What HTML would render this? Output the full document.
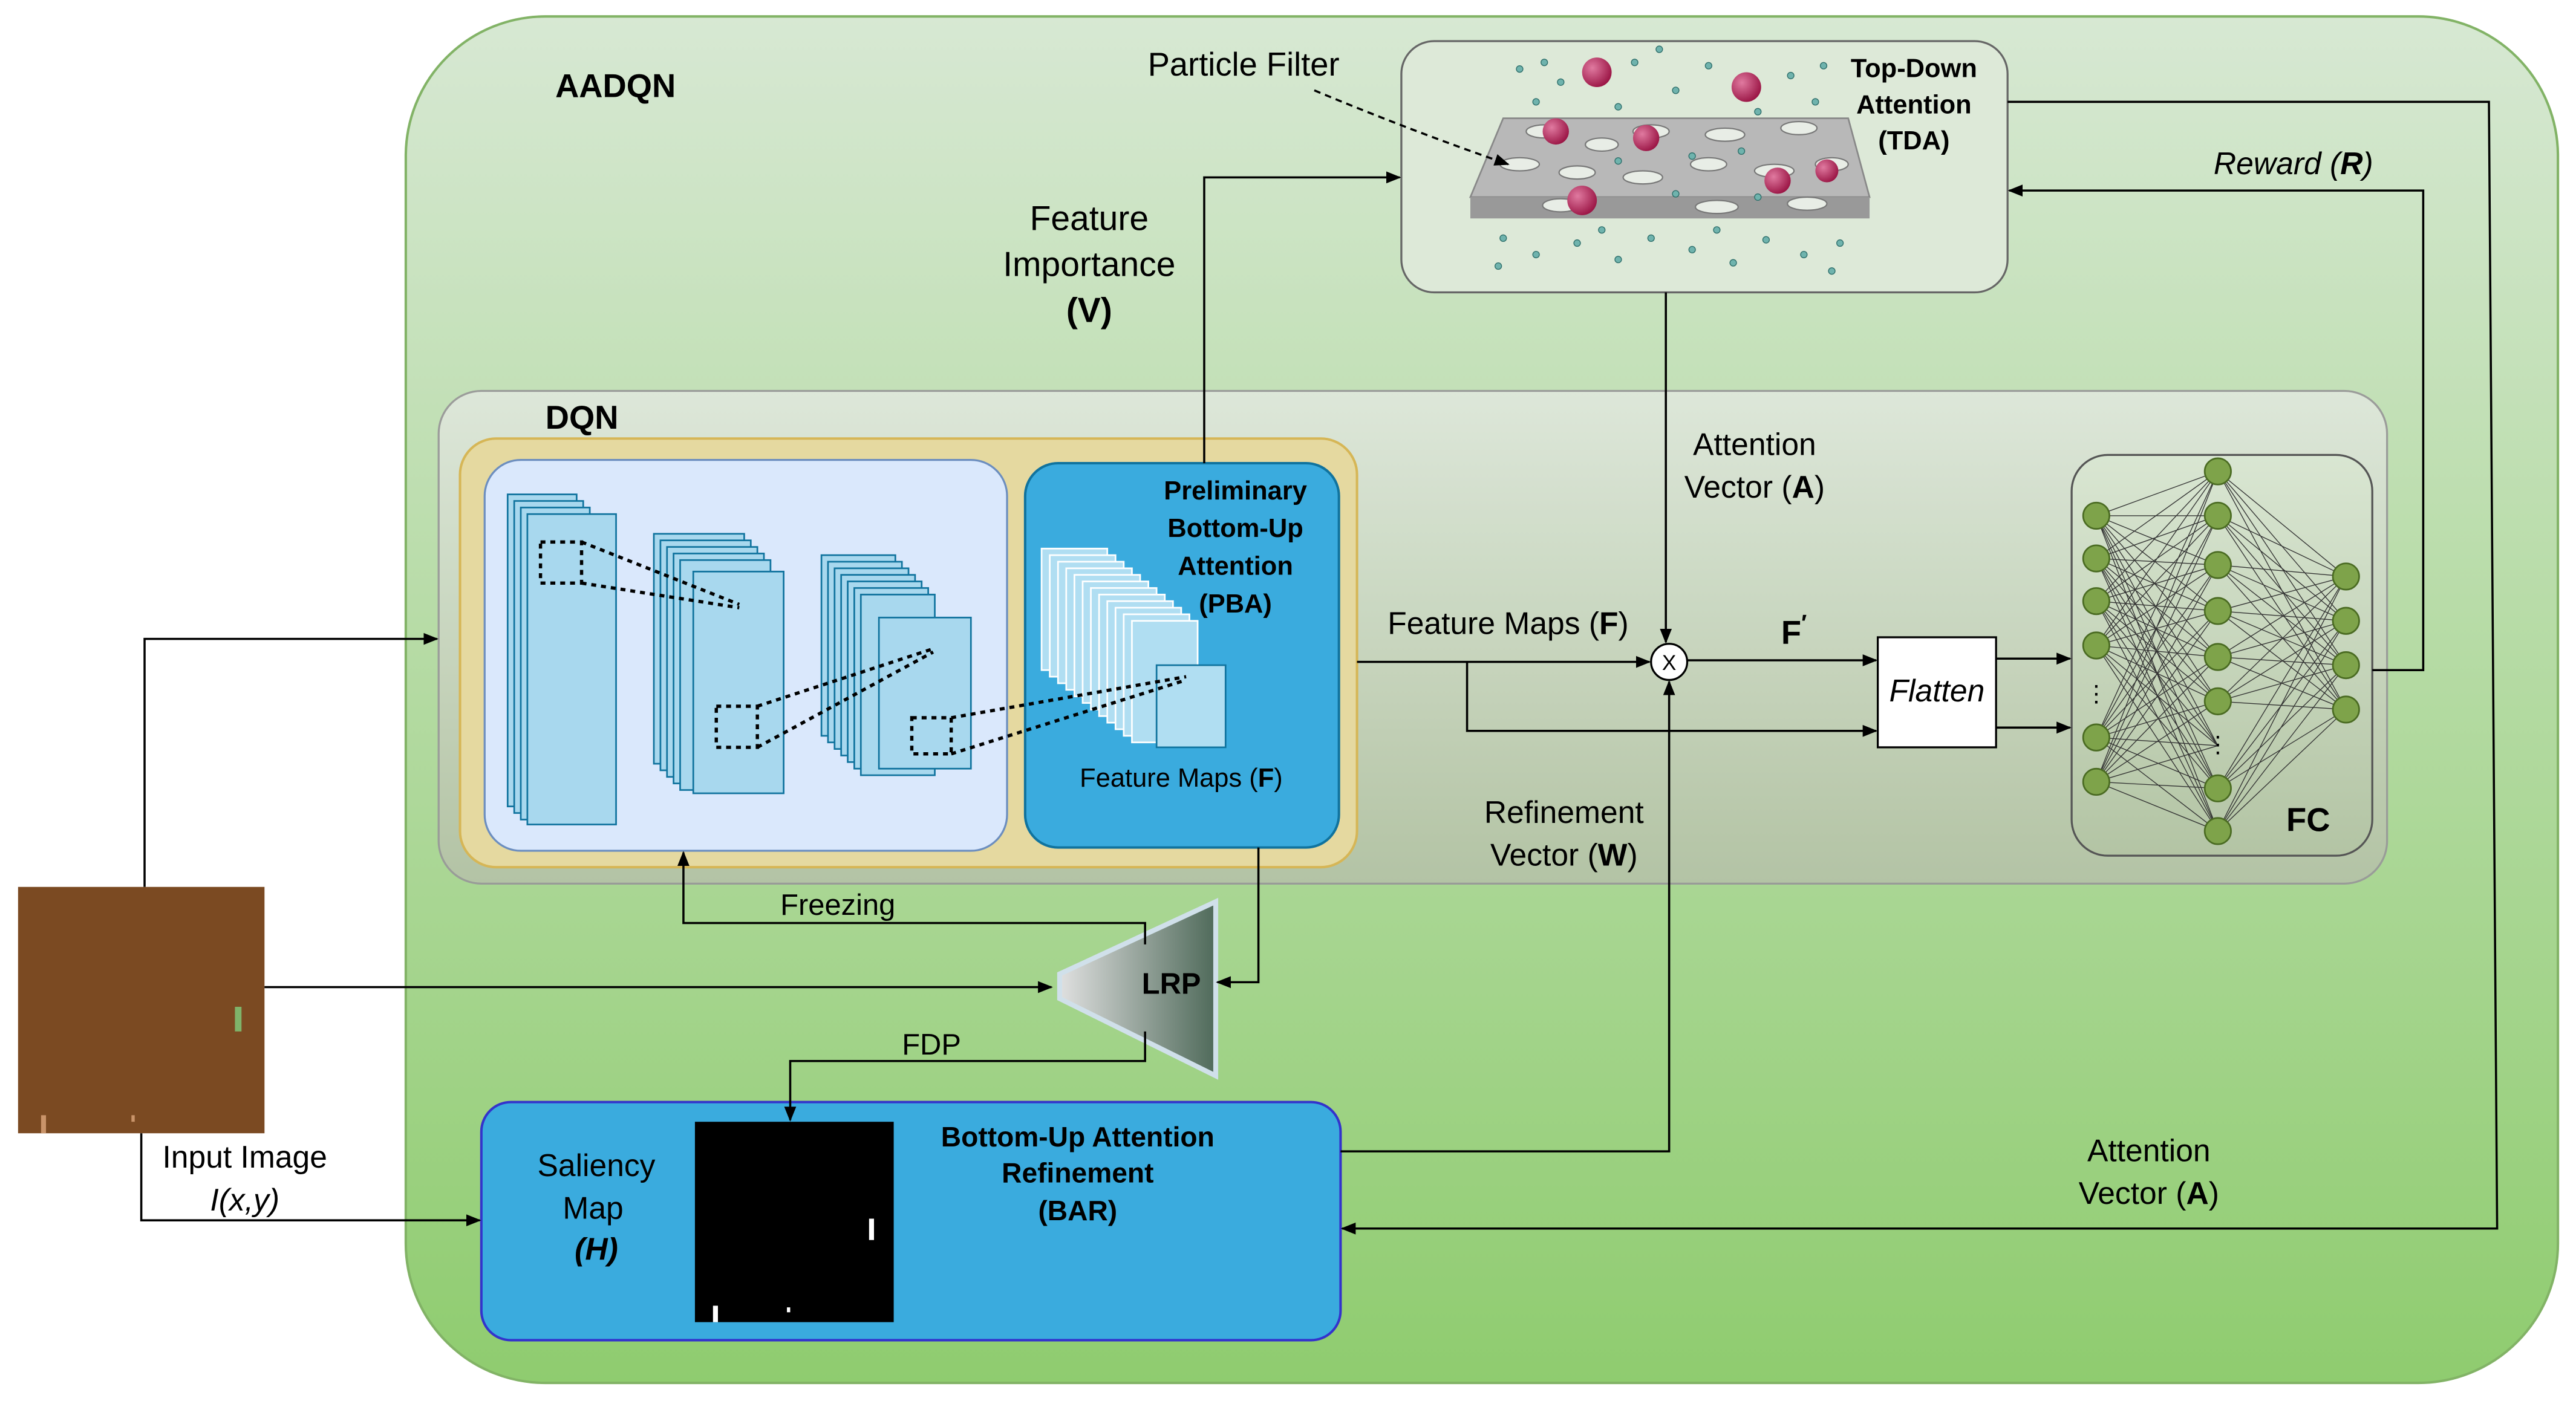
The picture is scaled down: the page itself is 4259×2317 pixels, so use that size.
<!DOCTYPE html>
<html><head><meta charset="utf-8"><style>
html,body{margin:0;padding:0;background:#fff;}
svg{display:block;}
text{font-family:"Liberation Sans",Arial,sans-serif;}
</style></head><body>
<svg width="4259" height="2317" viewBox="0 0 1568 853" xmlns="http://www.w3.org/2000/svg">
<defs>
<linearGradient id="gBig" x1="0" y1="0" x2="0" y2="1"><stop offset="0" stop-color="#d7e8d3"/><stop offset="1" stop-color="#8fcc6f"/></linearGradient>
<linearGradient id="gDqn" x1="0" y1="0" x2="0" y2="1"><stop offset="0" stop-color="#dfe8db"/><stop offset="1" stop-color="#b4c3a6"/></linearGradient>
<linearGradient id="gLrp" x1="0" y1="0" x2="1" y2="0"><stop offset="0" stop-color="#e0e0e0"/><stop offset="1" stop-color="#4f6a5a"/></linearGradient>
<linearGradient id="gFc" x1="0" y1="0" x2="0" y2="1"><stop offset="0" stop-color="#d9e6d2"/><stop offset="1" stop-color="#b3c4a4"/></linearGradient>
<radialGradient id="gBall" cx="0.35" cy="0.35" r="0.7"><stop offset="0" stop-color="#e07aa0"/><stop offset="1" stop-color="#9a1444"/></radialGradient>
<marker id="ar" viewBox="0 0 10 10" refX="9" refY="5" markerWidth="7" markerHeight="7" orient="auto-start-reverse"><path d="M0,1 L10,5 L0,9 z" fill="#000"/></marker>
</defs>
<rect x="0" y="0" width="1568" height="853" fill="#fff"/>
<rect x="247" y="10" width="1310" height="832" rx="85" fill="url(#gBig)" stroke="#82b366" stroke-width="1.5"/>
<text x="338" y="59" font-size="20" font-weight="bold">AADQN</text>

<!-- DQN -->
<rect x="267" y="238" width="1186" height="300" rx="26" fill="url(#gDqn)" stroke="#999" stroke-width="1.2" opacity="0.95"/>
<text x="332" y="261" font-size="20" font-weight="bold">DQN</text>
<rect x="280" y="267" width="546" height="261" rx="22" fill="#e5d9a0" stroke="#d6b656" stroke-width="1.5"/>
<rect x="295" y="280" width="318" height="238" rx="22" fill="#dae8fc" stroke="#6c8ebf" stroke-width="1.2"/>
<rect x="624" y="282" width="191" height="234" rx="20" fill="#3aabde" stroke="#10739e" stroke-width="1.5"/>
<text font-size="16" font-weight="bold" text-anchor="middle"><tspan x="752" y="304">Preliminary</tspan><tspan x="752" y="327">Bottom-Up</tspan><tspan x="752" y="350">Attention</tspan><tspan x="752" y="373">(PBA)</tspan></text>
<text x="719" y="479" font-size="16" text-anchor="middle">Feature Maps (<tspan font-weight="bold">F</tspan>)</text>

<!-- stacks -->
<g fill="#a8d8ee" stroke="#10739e" stroke-width="1">
<rect x="309" y="301" width="42" height="190"/><rect x="313" y="305" width="42" height="190"/><rect x="317" y="309" width="42" height="190"/><rect x="321" y="313" width="54" height="189"/>
<rect x="398" y="325" width="55" height="140"/><rect x="402" y="329" width="55" height="140"/><rect x="406" y="333" width="55" height="140"/><rect x="410" y="337" width="55" height="140"/><rect x="414" y="341" width="55" height="140"/><rect x="422" y="348" width="55" height="135"/>
<rect x="500" y="338" width="45" height="110"/><rect x="504" y="342" width="45" height="110"/><rect x="508" y="346" width="45" height="110"/><rect x="512" y="350" width="45" height="110"/><rect x="516" y="354" width="45" height="110"/><rect x="520" y="358" width="45" height="110"/><rect x="524" y="362" width="45" height="110"/><rect x="535" y="376" width="56" height="92"/>
</g>
<g fill="#b0def2" stroke="#fff" stroke-width="1">
<rect x="634" y="334" width="40" height="74"/><rect x="639" y="338" width="40" height="74"/><rect x="644" y="342" width="40" height="74"/><rect x="649" y="346" width="40" height="74"/><rect x="654" y="350" width="40" height="74"/><rect x="659" y="354" width="40" height="74"/><rect x="664" y="358" width="40" height="74"/><rect x="669" y="362" width="40" height="74"/><rect x="674" y="366" width="40" height="74"/><rect x="679" y="370" width="40" height="74"/><rect x="684" y="374" width="40" height="74"/><rect x="689" y="378" width="40" height="74"/>
<rect x="704" y="405" width="42" height="50" stroke="#10739e"/>
</g>
<g fill="none" stroke="#000" stroke-width="2" stroke-dasharray="3,3">
<rect x="329" y="330" width="25" height="25"/><line x1="354" y1="330" x2="450" y2="368"/><line x1="354" y1="355" x2="450" y2="370"/>
<rect x="436" y="430" width="25" height="25"/><line x1="461" y1="430" x2="568" y2="395"/><line x1="461" y1="455" x2="568" y2="397"/>
<rect x="555" y="437" width="24" height="22"/><line x1="579" y1="437" x2="722" y2="412"/><line x1="579" y1="459" x2="722" y2="414"/>
</g>

<!-- TDA -->
<rect x="853" y="25" width="369" height="153" rx="20" fill="#dde9d8" stroke="#666" stroke-width="1.2"/>
<text font-size="16" font-weight="bold" text-anchor="middle"><tspan x="1165" y="47">Top-Down</tspan><tspan x="1165" y="69">Attention</tspan><tspan x="1165" y="91">(TDA)</tspan></text>
<g>
<polygon points="915,72 1125,72 1138,120 895,120" fill="#b8b8b8" stroke="#888"/>
<polygon points="895,120 1138,120 1138,133 895,133" fill="#999"/>
<g fill="#e8ede6" stroke="#777" stroke-width="0.8">
<ellipse cx="940" cy="80" rx="11" ry="4"/><ellipse cx="975" cy="88" rx="10" ry="4"/><ellipse cx="1005" cy="80" rx="11" ry="4"/><ellipse cx="1050" cy="82" rx="12" ry="4"/><ellipse cx="1095" cy="78" rx="11" ry="4"/>
<ellipse cx="925" cy="100" rx="12" ry="4"/><ellipse cx="960" cy="105" rx="11" ry="4"/><ellipse cx="1000" cy="108" rx="12" ry="4"/><ellipse cx="1040" cy="100" rx="11" ry="4"/><ellipse cx="1080" cy="104" rx="12" ry="4"/><ellipse cx="1115" cy="100" rx="10" ry="4"/>
<ellipse cx="950" cy="125" rx="11" ry="4"/><ellipse cx="1045" cy="126" rx="13" ry="4"/><ellipse cx="1100" cy="124" rx="12" ry="4"/>
</g>
<g fill="url(#gBall)">
<circle cx="972" cy="44" r="9"/><circle cx="1063" cy="53" r="9"/><circle cx="947" cy="80" r="8"/><circle cx="1002" cy="84" r="8"/><circle cx="1082" cy="110" r="8"/><circle cx="1112" cy="104" r="7"/><circle cx="963" cy="122" r="9"/>
</g>
<g fill="#6fb3ad" stroke="#2d6e6a" stroke-width="0.5">
<circle cx="925" cy="42" r="2"/><circle cx="950" cy="50" r="2"/><circle cx="995" cy="38" r="2"/><circle cx="1020" cy="55" r="2"/><circle cx="1040" cy="40" r="2"/><circle cx="1090" cy="46" r="2"/><circle cx="1105" cy="62" r="2"/><circle cx="935" cy="62" r="2"/><circle cx="985" cy="65" r="2"/><circle cx="1070" cy="68" r="2"/><circle cx="940" cy="38" r="2"/><circle cx="1010" cy="30" r="2"/><circle cx="1110" cy="40" r="2"/>
<circle cx="915" cy="145" r="2"/><circle cx="935" cy="155" r="2"/><circle cx="960" cy="148" r="2"/><circle cx="985" cy="158" r="2"/><circle cx="1005" cy="145" r="2"/><circle cx="1030" cy="152" r="2"/><circle cx="1055" cy="160" r="2"/><circle cx="1075" cy="146" r="2"/><circle cx="1098" cy="155" r="2"/><circle cx="1120" cy="148" r="2"/><circle cx="912" cy="162" r="2"/><circle cx="1045" cy="140" r="2"/><circle cx="1115" cy="165" r="2"/><circle cx="975" cy="140" r="2"/>
<circle cx="1030" cy="95" r="2"/><circle cx="1060" cy="92" r="2"/><circle cx="985" cy="98" r="2"/><circle cx="1020" cy="118" r="2"/><circle cx="1070" cy="120" r="2"/>
</g>
</g>
<text x="757" y="46" font-size="20" text-anchor="middle">Particle Filter</text>
<path d="M800,55 Q860,80 918,100" fill="none" stroke="#000" stroke-width="1.3" stroke-dasharray="4,3" marker-end="url(#ar)"/>

<!-- FC -->
<rect x="1261" y="277" width="183" height="244" rx="22" fill="url(#gFc)" stroke="#555" stroke-width="1.2"/>
<g stroke="#333" stroke-width="0.5">
<g id="l1">
<path d="M1276,314 L1350,287 M1276,314 L1350,314 M1276,314 L1350,344 M1276,314 L1350,372 M1276,314 L1350,400 M1276,314 L1350,427 M1276,314 L1350,454 M1276,314 L1350,480 M1276,314 L1350,506
M1276,340 L1350,287 M1276,340 L1350,314 M1276,340 L1350,344 M1276,340 L1350,372 M1276,340 L1350,400 M1276,340 L1350,427 M1276,340 L1350,454 M1276,340 L1350,480 M1276,340 L1350,506
M1276,366 L1350,287 M1276,366 L1350,314 M1276,366 L1350,344 M1276,366 L1350,372 M1276,366 L1350,400 M1276,366 L1350,427 M1276,366 L1350,454 M1276,366 L1350,480 M1276,366 L1350,506
M1276,393 L1350,287 M1276,393 L1350,314 M1276,393 L1350,344 M1276,393 L1350,372 M1276,393 L1350,400 M1276,393 L1350,427 M1276,393 L1350,454 M1276,393 L1350,480 M1276,393 L1350,506
M1276,449 L1350,287 M1276,449 L1350,314 M1276,449 L1350,344 M1276,449 L1350,372 M1276,449 L1350,400 M1276,449 L1350,427 M1276,449 L1350,454 M1276,449 L1350,480 M1276,449 L1350,506
M1276,476 L1350,287 M1276,476 L1350,314 M1276,476 L1350,344 M1276,476 L1350,372 M1276,476 L1350,400 M1276,476 L1350,427 M1276,476 L1350,454 M1276,476 L1350,480 M1276,476 L1350,506"/>
</g>
<path d="M1350,287 L1428,351 M1350,287 L1428,378 M1350,287 L1428,405 M1350,287 L1428,432
M1350,314 L1428,351 M1350,314 L1428,378 M1350,314 L1428,405 M1350,314 L1428,432
M1350,344 L1428,351 M1350,344 L1428,378 M1350,344 L1428,405 M1350,344 L1428,432
M1350,372 L1428,351 M1350,372 L1428,378 M1350,372 L1428,405 M1350,372 L1428,432
M1350,400 L1428,351 M1350,400 L1428,378 M1350,400 L1428,405 M1350,400 L1428,432
M1350,427 L1428,351 M1350,427 L1428,378 M1350,427 L1428,405 M1350,427 L1428,432
M1350,480 L1428,351 M1350,480 L1428,378 M1350,480 L1428,405 M1350,480 L1428,432
M1350,506 L1428,351 M1350,506 L1428,378 M1350,506 L1428,405 M1350,506 L1428,432"/>
</g>
<g fill="#7ea34a" stroke="#4a6b22" stroke-width="1">
<circle cx="1276" cy="314" r="8"/><circle cx="1276" cy="340" r="8"/><circle cx="1276" cy="366" r="8"/><circle cx="1276" cy="393" r="8"/><circle cx="1276" cy="449" r="8"/><circle cx="1276" cy="476" r="8"/>
<circle cx="1350" cy="287" r="8"/><circle cx="1350" cy="314" r="8"/><circle cx="1350" cy="344" r="8"/><circle cx="1350" cy="372" r="8"/><circle cx="1350" cy="400" r="8"/><circle cx="1350" cy="427" r="8"/><circle cx="1350" cy="480" r="8"/><circle cx="1350" cy="506" r="8"/>
<circle cx="1428" cy="351" r="8"/><circle cx="1428" cy="378" r="8"/><circle cx="1428" cy="405" r="8"/><circle cx="1428" cy="432" r="8"/>
</g>
<text x="1276" y="427" font-size="14" text-anchor="middle">⋮</text>
<text x="1350" y="458" font-size="14" text-anchor="middle">⋮</text>
<text x="1405" y="506" font-size="20" font-weight="bold" text-anchor="middle">FC</text>

<!-- Flatten -->
<rect x="1143" y="388" width="72" height="67" fill="#fff" stroke="#000" stroke-width="1.2"/>
<text x="1179" y="427" font-size="19" font-style="italic" text-anchor="middle">Flatten</text>

<!-- multiply -->
<circle cx="1016" cy="403" r="11" fill="#fff" stroke="#000" stroke-width="1.2"/>
<text x="1016" y="408" font-size="13" text-anchor="middle">X</text>

<!-- LRP -->
<polygon points="645,593 740,549 740,655 645,608" fill="url(#gLrp)" stroke="#d0e0ea" stroke-width="3"/>
<text x="713" y="605" font-size="18" font-weight="bold" text-anchor="middle">LRP</text>

<!-- Input image -->
<rect x="11" y="540" width="150" height="150" fill="#7b4a22"/>
<rect x="143" y="613" width="4" height="15" fill="#7fb36a"/>
<rect x="25" y="679" width="3" height="11" fill="#c9946a"/>
<rect x="80" y="679" width="2" height="4" fill="#c9946a"/>
<text x="149" y="711" font-size="19" text-anchor="middle">Input Image</text>
<text x="149" y="737" font-size="19" font-style="italic" text-anchor="middle">I(x,y)</text>

<!-- BAR -->
<rect x="293" y="671" width="523" height="145" rx="18" fill="#3aabde" stroke="#3333cc" stroke-width="1.5"/>
<rect x="423" y="683" width="121" height="122" fill="#000"/>
<rect x="529" y="742" width="3" height="13" fill="#fff"/>
<rect x="434" y="795" width="3" height="10" fill="#fff"/>
<rect x="479" y="796" width="2" height="3" fill="#fff"/>
<text font-size="19" text-anchor="middle"><tspan x="363" y="716">Saliency</tspan><tspan x="361" y="742">Map</tspan><tspan x="363" y="767" font-weight="bold" font-style="italic">(H)</tspan></text>
<text font-size="17" font-weight="bold" text-anchor="middle"><tspan x="656" y="698">Bottom-Up Attention</tspan><tspan x="656" y="720">Refinement</tspan><tspan x="656" y="743">(BAR)</tspan></text>

<!-- connectors -->
<g fill="none" stroke="#000" stroke-width="1.3">
<path d="M88,540 V389 H266" marker-end="url(#ar)"/>
<path d="M161,601 H640" marker-end="url(#ar)"/>
<path d="M86,690 V743 H292" marker-end="url(#ar)"/>
<path d="M733,282 V108 H852" marker-end="url(#ar)"/>
<path d="M766,516 V598 H741" marker-end="url(#ar)"/>
<path d="M697,575 V562 H416 V519" marker-end="url(#ar)"/>
<path d="M697,628 V646 H481 V682" marker-end="url(#ar)"/>
<path d="M826,403 H1004" marker-end="url(#ar)"/>
<path d="M893,403 V445 H1142" marker-end="url(#ar)"/>
<path d="M1027,402 H1142" marker-end="url(#ar)"/>
<path d="M1014,178 V391" marker-end="url(#ar)"/>
<path d="M816,701 H1016 V415" marker-end="url(#ar)"/>
<path d="M1215,401 H1260" marker-end="url(#ar)"/>
<path d="M1215,443 H1260" marker-end="url(#ar)"/>
<path d="M1444,408 H1475 V116 H1223" marker-end="url(#ar)"/>
<path d="M1222,62 H1515 L1520,748 H817" marker-end="url(#ar)"/>
</g>

<!-- labels -->
<text font-size="21" text-anchor="middle"><tspan x="663" y="140">Feature</tspan><tspan x="663" y="168">Importance</tspan><tspan x="663" y="196" font-weight="bold">(V)</tspan></text>
<text x="918" y="386" font-size="19" text-anchor="middle">Feature Maps (<tspan font-weight="bold">F</tspan>)</text>
<text x="1092" y="392" font-size="20" font-weight="bold" text-anchor="middle">F<tspan font-size="14" dy="-8">′</tspan></text>
<text font-size="19" text-anchor="middle"><tspan x="1068" y="277">Attention</tspan><tspan x="1068" y="303">Vector (<tspan font-weight="bold">A</tspan>)</tspan></text>
<text font-size="19" text-anchor="middle"><tspan x="952" y="501">Refinement</tspan><tspan x="952" y="527">Vector (<tspan font-weight="bold">W</tspan>)</tspan></text>
<text x="1396" y="106" font-size="19" font-style="italic" text-anchor="middle">Reward (<tspan font-weight="bold">R</tspan>)</text>
<text font-size="19" text-anchor="middle"><tspan x="1308" y="707">Attention</tspan><tspan x="1308" y="733">Vector (<tspan font-weight="bold">A</tspan>)</tspan></text>
<text x="510" y="557" font-size="18" text-anchor="middle">Freezing</text>
<text x="567" y="642" font-size="18" text-anchor="middle">FDP</text>
</svg>
</body></html>
